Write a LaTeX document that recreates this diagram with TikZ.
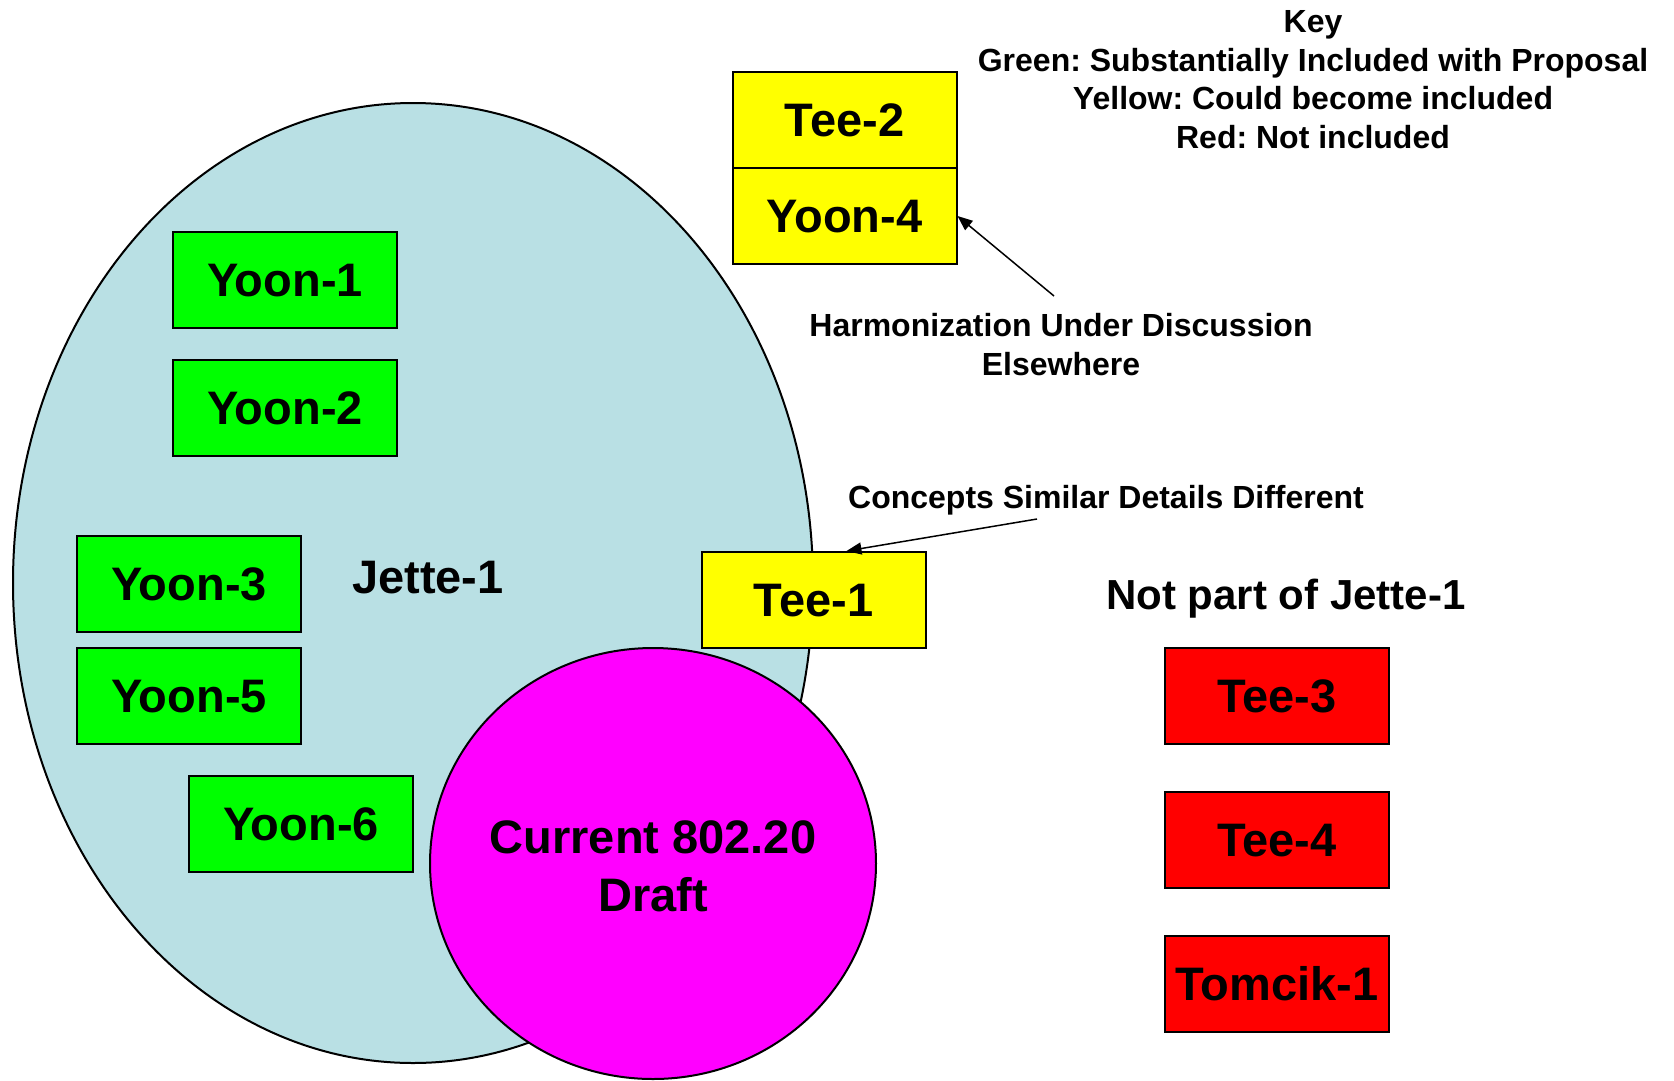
\documentclass[tikz,border=0pt]{standalone}
\usepackage{fontspec}
\setmainfont{Liberation Sans}
\frenchspacing
\usetikzlibrary{arrows.meta,calc}
\definecolor{jette}{RGB}{185,224,228}
\definecolor{mag}{RGB}{255,0,255}
\definecolor{ylw}{RGB}{255,255,0}
\definecolor{grn}{RGB}{0,255,0}
\definecolor{rd}{RGB}{255,0,0}
\tikzset{
  box/.style={draw=black, line width=2pt, minimum width=224pt, minimum height=96pt, inner sep=0pt,
    font=\fontsize{47}{56}\selectfont\bfseries, text height=33.7pt, text depth=0pt},
  gbox/.style={box, fill=grn},
  ybox/.style={box, fill=ylw},
  rbox/.style={box, fill=rd},
  lbl/.style={font=\fontsize{32}{38}\selectfont\bfseries, text height=23pt, text depth=0pt, inner sep=0pt},
  big/.style={font=\fontsize{47}{56}\selectfont\bfseries, text height=33.7pt, text depth=0pt, inner sep=0pt},
  mid/.style={font=\fontsize{42}{50}\selectfont\bfseries, text height=30pt, text depth=0pt, inner sep=0pt},
  conn/.style={line width=1.5pt, -{Triangle[length=15pt,width=12pt]}}
}
\begin{document}
\begin{tikzpicture}[x=1pt,y=-1pt]
\useasboundingbox (0,0) rectangle (1674,1080);
% Jette-1 ellipse
\draw[fill=jette, line width=2pt] (413,583) ellipse [x radius=400, y radius=480];
% Current draft circle
\draw[fill=mag, line width=2pt] (653,863.5) ellipse [x radius=223, y radius=215.5];
\node[big] (cur1) at (653,837) {Current 802.20};
\node[big] (cur2) at (653,895) {Draft};
\node[big] (jette) at (428,577) {Jette-1};
% green boxes
\node[gbox] (yoon1) at (285,280) {Yoon-1};
\node[gbox] (yoon2) at (285,408) {Yoon-2};
\node[gbox] (yoon3) at (189,584) {Yoon-3};
\node[gbox] (yoon5) at (189,696) {Yoon-5};
\node[gbox] (yoon6) at (301,824) {Yoon-6};
% yellow boxes
\node[ybox] (tee1) at (813.5,600) {Tee-1};
\node[ybox] (tee2) at (844.5,120) {Tee-2};
\node[ybox] (yoon4) at (844.5,216) {Yoon-4};
% red boxes
\node[rbox] (tee3) at (1277,696) {Tee-3};
\node[rbox] (tee4) at (1277,840) {Tee-4};
\node[rbox] (tomcik) at (1277,984) {Tomcik-1};
\node[mid] (notpart) at (1286,594) {Not part of Jette-1};
% key
\node[lbl] (key) at (1313,21) {Key};
\node[lbl] (keyg) at (1313,60) {Green: Substantially Included with Proposal};
\node[lbl] (keyy) at (1313,98) {Yellow: Could become included};
\node[lbl] (keyr) at (1313,137) {Red: Not included};
% annotations
\node[lbl] (harm1) at (1061,325) {Harmonization Under Discussion};
\node[lbl] (harm2) at (1061,364) {Elsewhere};
\node[lbl] (conc) at (1106,497) {Concepts Similar Details Different};
\coordinate (harmtail) at (1054,296);
\coordinate (conctail) at (1037,519);
\coordinate (tee1tip) at ($(tee1.north west)+(146,0)$);
\draw[conn] (harmtail) -- (yoon4.east);
\draw[conn] (conctail) -- (tee1tip);
\end{tikzpicture}
\end{document}
